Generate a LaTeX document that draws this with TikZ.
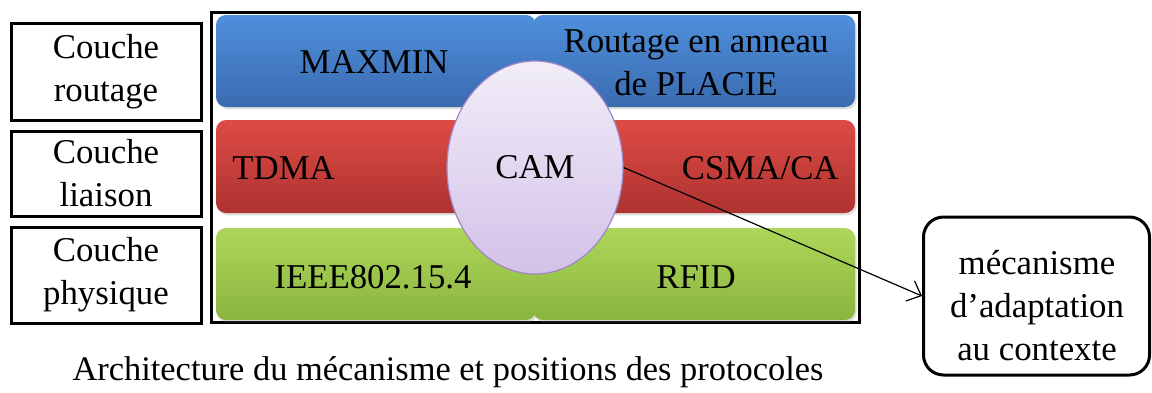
\documentclass[tikz,border=0pt]{standalone}
\usepackage{fontspec}
\setmainfont{Liberation Serif}
\usetikzlibrary{shapes.geometric,shadows,arrows.meta}
\definecolor{blueT}{HTML}{4F8FDB}
\definecolor{blueB}{HTML}{3A6BB0}
\definecolor{redT}{HTML}{DE4B45}
\definecolor{redB}{HTML}{AE3230}
\definecolor{greenT}{HTML}{AED65A}
\definecolor{greenB}{HTML}{8AB53E}
\definecolor{camT}{HTML}{F1EDF8}
\definecolor{camB}{HTML}{D3C1E8}
\definecolor{camD}{HTML}{9F86C6}
\begin{document}
\begin{tikzpicture}[x=0.5pt,y=-0.5pt,
  every node/.style={font=\fontsize{17.4}{21.5}\selectfont},
  lab/.style={draw, line width=1.5pt, align=center, inner sep=0pt, minimum width=95pt},
  bar/.style={rounded corners=5pt, drop shadow={opacity=0.25, shadow xshift=0.8pt, shadow yshift=-1.2pt}},
  bluebar/.style={bar, top color=blueT, bottom color=blueB},
  redbar/.style={bar, top color=redT, bottom color=redB},
  greenbar/.style={bar, top color=greenT, bottom color=greenB},
  txt/.style={inner sep=0pt, align=center}
]
\useasboundingbox (0,0) rectangle (1152,392);
% layer labels
\node[lab, minimum height=48.5pt] (lr) at (106,72) {Couche\\routage};
\node[lab, minimum height=42.5pt] (ll) at (106,173.5) {Couche\\liaison};
\node[lab, minimum height=48pt] (lp) at (106,275) {Couche\\physique};
% outer frame
\draw[line width=1.5pt] (211,12) rectangle (859,322);
% bars
\path[bluebar] (216,15) rectangle (536,107);
\path[bluebar] (533,15) rectangle (855,107);
\path[redbar] (216,120) rectangle (855,213);
\path[greenbar] (216,228) rectangle (536,320);
\path[greenbar] (533,228) rectangle (855,320);
% bar texts
\node[txt] (maxmin) at (374,62) {MAXMIN};
\node[txt] (anneau) at (696,63) {Routage en anneau\\de PLACIE};
\node[txt, anchor=west] (tdma) at (232,168) {TDMA};
\node[txt, anchor=east] (csma) at (839,168) {CSMA/CA};
\node[txt] (ieee) at (373,277) {IEEE802.15.4};
\node[txt] (rfid) at (696,277) {RFID};
% CAM ellipse
\node[ellipse, draw=camD, line width=0.6pt, top color=camT, bottom color=camB,
      minimum width=88pt, minimum height=106.5pt, inner sep=0pt] (cam) at (535,167.5) {CAM};
% context box
\node[draw, line width=1.5pt, rounded corners=10pt,
      minimum width=113pt, minimum height=79pt, inner sep=0pt] (ctx) at (1036.5,296) {};
\node[txt] (ctxt) at (1037,306) {mécanisme\\d’adaptation\\au contexte};
\draw[line width=0.6pt, -{Straight Barb[length=6pt,width=11pt]}] (cam.east) -- (ctx.west);
% caption
\node[txt, font=\fontsize{17.2}{21}\selectfont] (cap) at (448,372) {Architecture du mécanisme et positions des protocoles};
\end{tikzpicture}
\end{document}
